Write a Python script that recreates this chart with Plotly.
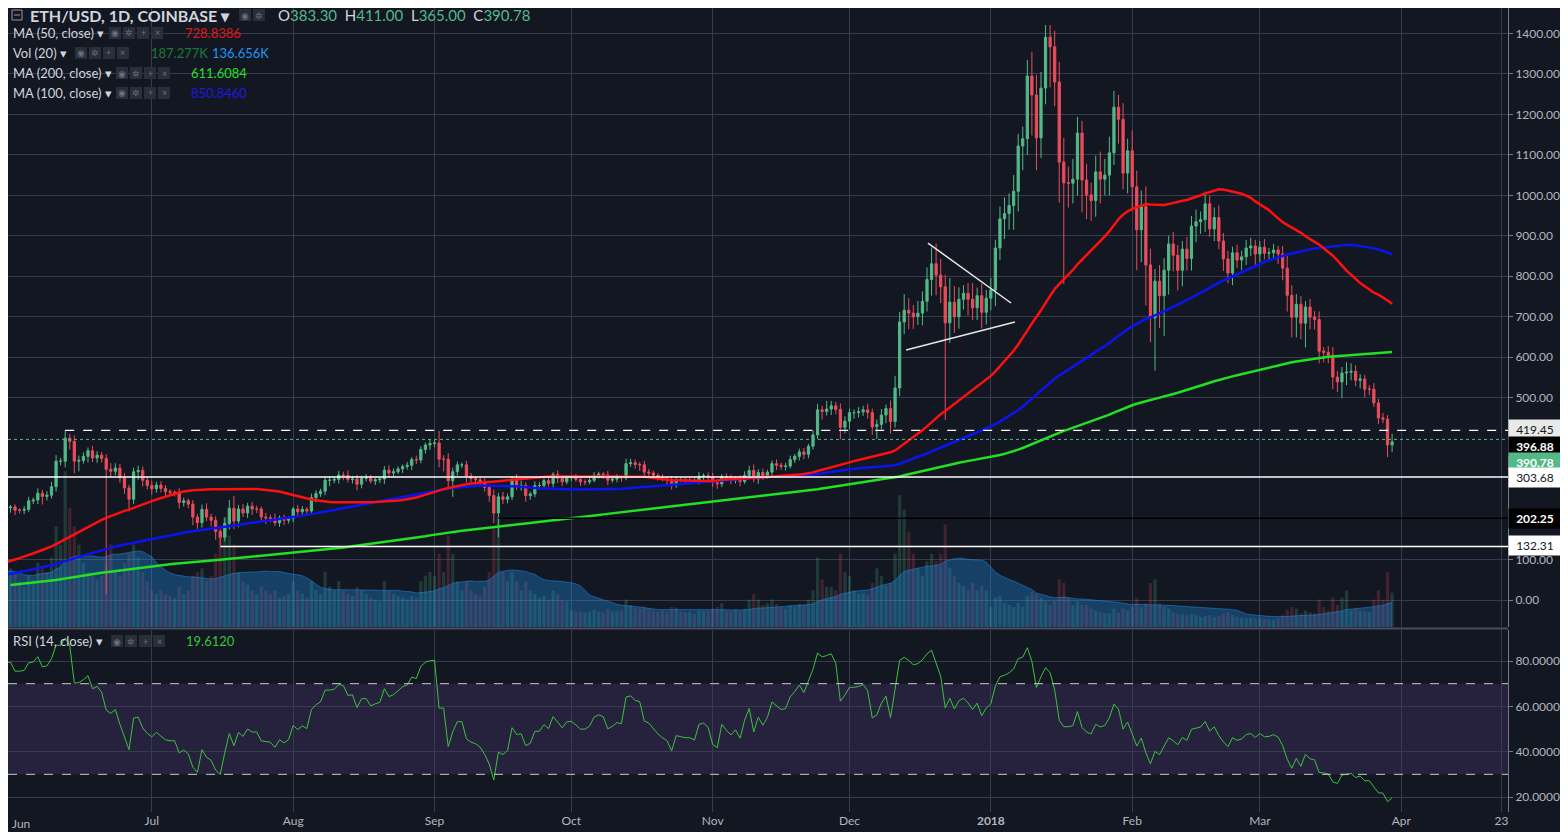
import pandas as pd
import numpy as np
import plotly.graph_objects as go

# ---------------------------------------------------------------------------
# DATA  (ETH/USD daily, Coinbase)
# ---------------------------------------------------------------------------
# closes before the visible window, only used to seed the moving averages
hist_close = [
    10, 10, 10, 10, 10, 9.9, 9.6, 9.5, 9.6, 9.9, 9.4, 9.3, 8.9, 8.6, 8.2, 8.1, 8.6, 8.6,
    8, 7.5, 7.6, 7.6, 6.8, 7.5, 8.4, 8.3, 8.4, 8.0, 8.2, 8.3, 8.4, 8.1, 7.8, 7.8, 7.8, 7.6,
    7.6, 7.6, 7.9, 7.6, 7.2, 7.2, 7.2, 7.2, 7.1, 7.9, 8.2, 8.2, 8.0,
    8.2, 8.4, 9.6, 11.1, 10.3, 10.2, 9.9, 10.4, 10.2, 10.5, 9.8, 9.8, 9.8, 9.8, 9.8, 9.6,
    10.2, 10.3, 10.4, 10.6, 11.0, 10.8, 10.8, 10.6, 10.5, 10.6, 10.6, 10.6, 10.5, 10.6, 10.7,
    10.8, 10.8, 11.3, 11.4, 11.3, 11.3, 11.5, 11.4, 11.1, 11.4, 11.4, 11.4, 11.4, 12.9, 13.0,
    12.9, 12.8, 12.8, 12.6, 12.5, 12.6, 12.5, 13.1, 13.1, 13.2, 14.5, 15.5, 16.1,
    17.5, 18.9, 19.2, 18.9, 19.6, 19.6, 18.8, 16.6, 17.9, 19.4, 21.4, 23.4, 28.7, 28.5, 35.6,
    45, 44, 34, 42, 42.5, 42.3, 41.8, 43, 53, 51, 50, 49, 50, 52, 51, 49,
    50, 48, 44, 44, 45, 43, 42, 44, 43, 43.5, 43.7, 46, 50, 49, 48, 48, 47, 49, 48, 49, 48,
    48, 49, 50, 50, 53, 63, 72, 69, 79,
    78, 78, 81, 95, 90, 96, 90, 88, 89, 88, 89, 85, 88, 90, 90, 88, 90, 97, 123, 125, 149,
    163, 172, 192, 174, 157, 150,
]

# visible window 2017-05-28 .. 2018-03-30
close = [
    170, 194, 228, 230,
    222, 222, 224, 245, 247, 264, 256, 259, 280, 343, 343, 400, 392, 343, 345, 355, 369, 351,
    358, 350, 323, 318, 326, 302, 277, 249, 317, 320, 296, 283,
    275, 284, 276, 268, 266, 266, 241, 245, 237, 205, 191, 224, 205, 197, 169, 155, 189, 227,
    195, 225, 215, 232, 225, 225, 205, 203, 202, 191, 203, 197, 202,
    225, 218, 224, 220, 253, 263, 269, 296, 296, 298, 309, 308, 298, 299, 286, 301, 301, 294,
    297, 299, 321, 314, 317, 324, 330, 333, 347, 346, 372, 383, 387,
    388, 348, 348, 295, 317, 334, 334, 306, 300, 297, 291, 278, 258, 215, 255, 249, 255, 296,
    282, 283, 258, 262, 283, 283, 295, 288, 310, 301, 292, 302,
    303, 298, 292, 292, 296, 308, 311, 309, 296, 299, 303, 302, 337, 339, 335, 334, 316, 314,
    308, 303, 299, 296, 285, 298, 297, 296, 296, 294, 306, 307, 304,
    290, 287, 305, 300, 296, 300, 293, 308, 320, 299, 315, 307, 316, 337, 333, 330, 331, 347,
    355, 366, 360, 380, 408, 470, 466, 472, 480, 471, 427, 442,
    463, 463, 465, 470, 463, 428, 434, 457, 473, 441, 524, 687, 716, 709, 700, 709, 738, 792,
    831, 803, 774, 685, 736, 700, 743, 758, 743, 722, 752, 711, 746,
    766, 870, 942, 955, 975, 1010, 1122, 1140, 1295, 1248, 1142, 1265, 1391, 1367, 1280, 1082,
    1031, 1030, 1040, 1154, 1038, 1001, 987, 1058, 1040, 1050, 1105, 1218, 1188, 1055, 1110,
    1021, 915, 972, 828, 697, 788, 752, 815, 880, 852, 815, 867, 844, 924, 935, 940, 979, 917,
    945, 887, 843, 808, 858, 840, 848, 870, 875, 855,
    872, 857, 858, 865, 855, 820, 753, 699, 731, 684, 724, 699, 693, 615, 612, 605, 551, 539,
    561, 563, 565, 543, 546, 521, 521, 487, 450, 447, 383.30, 390.78,
]

wick_up = [
    8, 10, 6, 5,
    6, 5, 8, 10, 6, 12, 8, 10, 12, 15, 8, 20, 10, 15, 12, 10, 8, 12, 10, 8, 10, 15, 12, 10, 12, 8, 10, 12, 10, 8,
    12, 8, 10, 8, 6, 5, 10, 8, 6, 10, 8, 12, 15, 8, 10, 5, 15, 20, 30, 10, 12, 8, 10, 8, 6, 10, 8, 12, 6, 8, 5,
    5, 10, 8, 6, 10, 8, 6, 8, 10, 6, 10, 8, 12, 8, 10, 6, 10, 8, 6, 5, 10, 12, 8, 6, 5, 8, 6, 10, 8, 6, 10,
    8, 30, 10, 15, 10, 8, 6, 10, 8, 6, 8, 10, 8, 15, 10, 12, 8, 10, 15, 12, 8, 6, 10, 8, 6, 8, 6, 10, 8, 6,
    6, 8, 5, 6, 5, 8, 6, 5, 10, 6, 8, 5, 12, 10, 8, 6, 10, 8, 6, 5, 8, 6, 10, 8, 6, 5, 6, 8, 10, 6, 8,
    10, 8, 6, 8, 10, 6, 8, 10, 12, 15, 8, 10, 6, 8, 10, 6, 8, 10, 6, 8, 10, 6, 12, 15, 10, 20, 12, 10, 15, 12,
    10, 8, 12, 10, 15, 10, 12, 15, 10, 20, 30, 25, 40, 30, 20, 30, 25, 30, 40, 50, 40, 30, 60, 40, 30, 20, 25, 40, 20, 30, 20,
    30, 20, 30, 40, 30, 40, 30, 30, 40, 60, 50, 40, 30, 30, 40, 50, 60, 40, 50, 40, 30, 40, 30, 40, 50, 40, 40, 40, 30, 40, 30,
    50, 40, 40, 50, 40, 30, 40, 30, 20, 30, 25, 20, 30, 25, 30, 20, 30, 20, 25, 30, 20, 20, 15, 20, 15, 20, 20, 15,
    15, 20, 12, 15, 10, 20, 30, 25, 25, 20, 15, 20, 15, 20, 10, 15, 20, 15, 15, 25, 20, 15, 12, 10, 10, 15, 10, 12, 10, 20,
]

wick_dn = [
    10, 8, 10, 12,
    12, 8, 10, 6, 8, 10, 20, 10, 8, 12, 10, 15, 20, 30, 25, 8, 15, 10, 12, 10, 310, 15, 10, 12, 15, 30, 12, 20, 15, 10,
    15, 10, 10, 12, 8, 10, 15, 10, 10, 20, 15, 12, 10, 15, 20, 20, 10, 15, 20, 15, 10, 12, 15, 10, 12, 15, 10, 8, 10, 12, 8,
    10, 12, 10, 8, 10, 12, 8, 10, 15, 8, 10, 12, 8, 10, 15, 10, 8, 6, 10, 8, 12, 10, 8, 6, 10, 8, 12, 10, 8, 10, 12,
    10, 20, 30, 15, 40, 10, 8, 15, 10, 12, 8, 10, 15, 25, 60, 12, 10, 8, 10, 12, 15, 10, 8, 10, 6, 8, 10, 12, 10, 6,
    8, 6, 10, 8, 6, 5, 8, 10, 12, 6, 8, 10, 6, 8, 10, 15, 12, 8, 10, 8, 6, 10, 12, 8, 6, 8, 10, 6, 8, 10, 8,
    10, 12, 8, 6, 10, 8, 12, 6, 10, 8, 12, 10, 8, 10, 12, 8, 10, 6, 8, 10, 12, 10, 8, 10, 20, 10, 15, 12, 30, 15,
    20, 15, 12, 10, 15, 20, 30, 12, 20, 30, 15, 20, 30, 40, 30, 20, 30, 25, 40, 50, 40, 240, 50, 40, 30, 25, 40, 30, 30, 40, 30,
    30, 40, 30, 50, 40, 60, 50, 60, 40, 100, 80, 50, 40, 100, 60, 100, 250, 60, 50, 40, 80, 60, 50, 40, 60, 40, 50, 30, 60, 40, 50,
    60, 100, 80, 100, 60, 130, 80, 100, 60, 40, 50, 40, 30, 30, 40, 30, 30, 20, 30, 20, 30, 25, 30, 20, 25, 20, 20, 30,
    20, 15, 20, 15, 25, 30, 40, 50, 50, 40, 60, 30, 25, 30, 25, 20, 30, 25, 40, 30, 20, 15, 20, 20, 15, 10, 15, 10, 30, 18,
]

# volume in thousands
volume = [
    250, 300, 350, 320,
    300, 250, 220, 280, 260, 350, 320, 300, 380, 550, 450, 850, 650, 550, 450, 350, 300, 280, 260, 280, 350, 450, 300, 280, 350, 400, 450, 380, 300, 250,
    200, 180, 200, 180, 170, 160, 220, 180, 200, 280, 300, 320, 250, 280, 400, 550, 600, 500, 450, 300, 250, 230, 200, 180, 220, 200, 180, 200, 160, 170, 180,
    250, 200, 180, 160, 250, 200, 180, 300, 220, 200, 250, 200, 180, 170, 220, 200, 180, 160, 150, 140, 250, 200, 180, 170, 160, 150, 170, 160, 250, 280, 300,
    280, 400, 300, 500, 400, 250, 200, 250, 200, 180, 170, 220, 300, 550, 600, 300, 250, 300, 250, 200, 250, 200, 180, 160, 170, 150, 200, 180, 150, 140,
    90, 85, 85, 80, 85, 95, 85, 80, 100, 85, 85, 90, 150, 120, 105, 100, 110, 100, 90, 85, 90, 85, 110, 105, 85, 80, 80, 70, 90, 85, 90,
    100, 110, 130, 90, 85, 95, 90, 100, 150, 180, 150, 120, 130, 150, 125, 110, 100, 120, 110, 125, 120, 150, 200, 380, 260, 220, 220, 200, 400, 300,
    280, 200, 180, 185, 175, 240, 320, 280, 225, 240, 400, 720, 640, 520, 400, 320, 280, 360, 400, 360, 400, 560, 320, 280, 240, 225, 200, 240, 200, 225, 200,
    110, 160, 170, 130, 120, 110, 130, 110, 170, 190, 180, 160, 140, 120, 140, 260, 240, 160, 120, 140, 120, 120, 100, 90, 80, 75, 75, 100, 80, 100, 90,
    110, 160, 110, 130, 240, 260, 130, 110, 100, 80, 70, 70, 65, 70, 65, 55, 60, 65, 55, 60, 70, 80, 65, 55, 50, 48, 50, 48,
    50, 45, 40, 40, 48, 65, 95, 110, 100, 75, 90, 80, 75, 150, 110, 90, 160, 120, 160, 200, 90, 100, 90, 85, 80, 150, 200, 150, 300, 187.277,
]

# horizontal levels drawn on the chart: (price, start date, style)
levels = [
    (419.45, "2017-06-12", "dash_white"),
    (396.88, "2017-05-20", "dot_green"),
    (303.68, "2017-05-20", "solid_white"),
    (202.25, "2017-09-15", "solid_black"),
    (132.31, "2017-07-16", "solid_white"),
]
# triangle trend lines: (x0, y0, x1, y1)
trend_lines = [
    ("2017-12-18 05:00", 882, "2018-01-05 10:00", 734),
    ("2017-12-13 10:00", 618, "2018-01-06 07:00", 687),
]

month_ticks = ["2017-07-01", "2017-08-01", "2017-09-01", "2017-10-01", "2017-11-01",
               "2017-12-01", "2018-01-01", "2018-02-01", "2018-03-01", "2018-04-01", "2018-04-23"]
month_text = ["Jul", "Aug", "Sep", "Oct", "Nov", "Dec", "<b>2018</b>", "Feb", "Mar", "Apr", "23"]

# ---------------------------------------------------------------------------
# indicators
# ---------------------------------------------------------------------------
dates = pd.date_range("2017-05-28", "2018-03-30", freq="D")
hist_dates = pd.date_range(end="2017-05-27", periods=len(hist_close), freq="D")
all_close = pd.Series(hist_close + close, index=hist_dates.append(dates))

ma50 = all_close.rolling(50).mean().loc[dates]
ma100 = all_close.rolling(100).mean().loc[dates]
ma200 = all_close.rolling(200).mean().loc[dates]

delta = all_close.diff()
gain = delta.clip(lower=0).ewm(alpha=1 / 14, adjust=False).mean()
loss = (-delta.clip(upper=0)).ewm(alpha=1 / 14, adjust=False).mean()
rsi = (100 - 100 / (1 + gain / loss)).loc[dates]

c = np.array(close, dtype=float)
o = all_close.shift(1).loc[dates].values
hi = np.maximum(o, c) + np.array(wick_up)
lo = np.minimum(o, c) - np.array(wick_dn)
vol = pd.Series(volume, index=dates)
vol_ma = vol.rolling(20, min_periods=1).mean()

UP, DN = "#53b987", "#eb4d5c"
BG, GRID, TXT = "#131722", "#363c4e", "#b2b5be"
X0, X1 = "2017-05-30 11:00", "2018-04-24 10:00"

# ---------------------------------------------------------------------------
# figure
# ---------------------------------------------------------------------------
fig = go.Figure()

# volume (base axis of main pane)
vcols = ["rgba(83,185,135,0.22)" if cc >= oo else "rgba(235,77,92,0.22)" for cc, oo in zip(c, o)]
fig.add_trace(go.Bar(x=dates, y=vol, marker=dict(color=vcols, line_width=0), yaxis="y", xaxis="x"))
fig.add_trace(go.Scatter(x=dates, y=vol_ma, mode="lines", line=dict(color="rgba(33,150,243,0.45)", width=1),
                         fill="tozeroy", fillcolor="rgba(33,150,243,0.33)", yaxis="y", xaxis="x"))

# moving averages + candles (price axis)
fig.add_trace(go.Scatter(x=dates, y=ma200, mode="lines", line=dict(color="#22e022", width=2.5), yaxis="y2"))
fig.add_trace(go.Scatter(x=dates, y=ma100, mode="lines", line=dict(color="#0a14f0", width=2.5), yaxis="y2"))
fig.add_trace(go.Scatter(x=dates, y=ma50, mode="lines", line=dict(color="#ff1010", width=2.5), yaxis="y2"))
fig.add_trace(go.Candlestick(x=dates, open=o, high=hi, low=lo, close=c, yaxis="y2", whiskerwidth=0,
                             increasing=dict(line=dict(color=UP, width=1), fillcolor=UP),
                             decreasing=dict(line=dict(color=DN, width=1), fillcolor=DN)))

# RSI
fig.add_trace(go.Scatter(x=dates, y=rsi, mode="lines", line=dict(color="#3cc23c", width=1), yaxis="y3"))

fig.update_traces(showlegend=False, hoverinfo="skip")

# helpers: reference pixel -> paper coords (page body has an 8px margin)
W, H = 1500, 804
def pxx(x): return (x - 8) / W
def pxy(y): return 1 - (y - 8) / H

main_dom = [pxy(627), 1]
rsi_dom = [0, pxy(630)]

shapes = []
# RSI band and levels
shapes.append(dict(type="rect", xref="x", yref="y3", x0=X0, x1=X1, y0=30, y1=70,
                   fillcolor="rgba(126,87,194,0.18)", line_width=0, layer="below"))
for lv in (70, 30):
    shapes.append(dict(type="line", xref="x", yref="y3", x0=X0, x1=X1, y0=lv, y1=lv,
                       line=dict(color="#c8c8c8", width=1, dash="dash")))
# pane separator
shapes.append(dict(type="line", xref="paper", yref="paper", x0=0, x1=1, y0=pxy(628.5), y1=pxy(628.5),
                   line=dict(color="#4a4f5e", width=2)))

style = {
    "dash_white": dict(color="#ffffff", width=1.2, dash="dash"),
    "dot_green": dict(color=UP, width=1, dash="dot"),
    "solid_white": dict(color="#ffffff", width=1.5),
    "solid_black": dict(color="#000000", width=1.5),
}
for price, start, st in levels:
    shapes.append(dict(type="line", xref="x", yref="y2", x0=max(start, X0), x1=X1, y0=price, y1=price,
                       line=style[st]))
for x0, y0, x1, y1 in trend_lines:
    shapes.append(dict(type="line", xref="x", yref="y2", x0=x0, y0=y0, x1=x1, y1=y1,
                       line=dict(color="#e8e8e8", width=1.5)))

annotations = []
# price labels on the right scale
label_style = [
    (419.45, 429, "#e9e9ea", "#131722"),
    (396.88, 446, "#000000", "#ffffff"),
    (390.78, 462, UP, "#ffffff"),
    (303.68, 478, "#ffffff", "#131722"),
    (202.25, 518, "#000000", "#ffffff"),
    (132.31, 545, "#ffffff", "#131722"),
]
for val, ypix, bg, fg in label_style:
    annotations.append(dict(xref="paper", yref="paper", x=1, y=pxy(ypix), xanchor="left", yanchor="middle",
                            text=f"<b>{val:.2f}</b>" if bg in ("#000000", UP) else f"{val:.2f}",
                            showarrow=False, bgcolor=bg, font=dict(color=fg, size=12),
                            borderpad=2, width=48, align="center"))

# legends
def txt(x, y, s, color="#d1d4dc", size=13, bold=False):
    annotations.append(dict(xref="paper", yref="paper", x=pxx(x), y=pxy(y), xanchor="left", yanchor="middle",
                            text=f"<b>{s}</b>" if bold else s, showarrow=False, font=dict(color=color, size=size)))

def icons(x, y, n):
    glyphs = ["◉", "✲", "+", "×"]
    for k in range(n):
        shapes.append(dict(type="rect", xref="paper", yref="paper", x0=pxx(x + k * 14), x1=pxx(x + k * 14 + 12),
                           y0=pxy(y + 6), y1=pxy(y - 6), fillcolor="#2a2e39", line_width=0))
        annotations.append(dict(xref="paper", yref="paper", x=pxx(x + k * 14 + 6), y=pxy(y), text=glyphs[k],
                                showarrow=False, font=dict(color="#6d7080", size=9), xanchor="center", yanchor="middle"))

DX = 8  # keep left legend clear of the page margin
shapes.append(dict(type="rect", xref="paper", yref="paper", x0=pxx(4 + DX), x1=pxx(14 + DX), y0=pxy(20), y1=pxy(10),
                   line=dict(color="#9598a1", width=1)))
shapes.append(dict(type="line", xref="paper", yref="paper", x0=pxx(6 + DX), x1=pxx(12 + DX), y0=pxy(15), y1=pxy(15),
                   line=dict(color="#9598a1", width=1)))
txt(20 + DX, 15, "ETH/USD, 1D, COINBASE ▾", size=16, bold=True)
icons(231 + DX, 15, 2)
txt(268 + DX, 15, "O<span style='color:#53b987'>383.30</span>  H<span style='color:#53b987'>411.00</span>  "
                  "L<span style='color:#53b987'>365.00</span>  C<span style='color:#53b987'>390.78</span>", size=15)
txt(3 + DX, 33, "MA (50, close) ▾"); icons(101 + DX, 33, 4); txt(175 + DX, 33, "728.8386", "#e01515")
txt(3 + DX, 53, "Vol (20) ▾"); icons(67 + DX, 53, 4); txt(141 + DX, 53, "187.277K", "#1b7a34")
txt(202 + DX, 53, "136.656K", "#2196f3")
txt(3 + DX, 73, "MA (200, close) ▾"); icons(108 + DX, 73, 4); txt(181 + DX, 73, "611.6084", "#22e022")
txt(3 + DX, 93, "MA (100, close) ▾"); icons(108 + DX, 93, 4); txt(181 + DX, 93, "850.8460", "#1a1ae0")
txt(3 + DX, 641, "RSI (14, close) ▾"); icons(103 + DX, 641, 4); txt(176 + DX, 641, "19.6120", "#3cc23c")
# first month label sits at the clipped left edge
txt(10, 823, "Jun", color=TXT, size=12)

price_ticks = [0, 100, 500, 600, 700, 800, 900, 1000, 1100, 1200, 1300, 1400]

fig.update_layout(
    width=1560, height=824, margin=dict(l=0, r=60, t=0, b=20),
    paper_bgcolor=BG, plot_bgcolor=BG, showlegend=False, bargap=0.3,
    font=dict(family="Lato", color=TXT, size=12),
    xaxis=dict(range=[X0, X1], anchor="y3", type="date", rangeslider=dict(visible=False),
               tickvals=month_ticks, ticktext=month_text, showgrid=True, gridcolor=GRID, gridwidth=1,
               zeroline=False, tickfont=dict(color=TXT, size=12), ticks="", showline=False),
    yaxis=dict(domain=main_dom, range=[0, 3380], visible=False, showgrid=False),
    yaxis2=dict(domain=main_dom, overlaying="y", side="right", range=[-66.7, 1463], anchor="x",
                tickvals=price_ticks, ticktext=[f"{v:.2f}" for v in price_ticks],
                showgrid=True, gridcolor=GRID, zeroline=False, ticks="outside", ticklen=4, tickcolor="#787b86",
                showline=True, linecolor="#787b86", tickfont=dict(color=TXT, size=12)),
    yaxis3=dict(domain=rsi_dom, side="right", range=[13.38, 93.68], anchor="x",
                tickvals=[20, 40, 60, 80], ticktext=["20.0000", "40.0000", "60.0000", "80.0000"],
                showgrid=True, gridcolor=GRID, zeroline=False, ticks="outside", ticklen=4, tickcolor="#787b86",
                showline=True, linecolor="#787b86", tickfont=dict(color=TXT, size=12)),
    shapes=shapes, annotations=annotations,
)

fig.write_html("out.html")
